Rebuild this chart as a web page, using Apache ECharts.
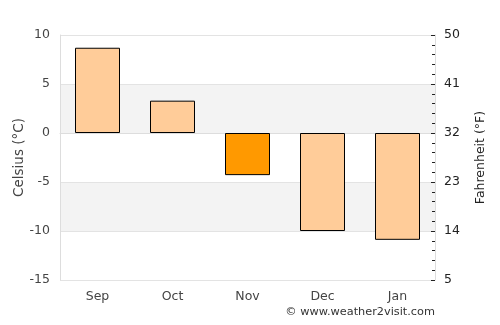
<!DOCTYPE html>
<html>
<head>
<meta charset="utf-8">
<script src="https://cdn.jsdelivr.net/npm/echarts@6/dist/echarts.min.js"></script>
<style>
html, body { margin: 0; padding: 0; background: #fff; }
#chart { width: 500px; height: 325px; }
</style>
</head>
<body>
<div id="chart"></div>
<script>
var months = ['Sep', 'Oct', 'Nov', 'Dec', 'Jan'];
var celsius = [8.7, 3.3, -4.3, -10.0, -10.9];
var highlight = 'Nov'; // current month, darker orange

var chart = echarts.init(document.getElementById('chart'));
var font = 'DejaVu Sans';

var option = {
    backgroundColor: '#fff',
    animation: false,
    grid: { left: 60, right: 65, top: 35, bottom: 45, outerBoundsMode: 'none', containLabel: false },
    xAxis: {
        type: 'category',
        data: months,
        axisLine: { show: true, lineStyle: { color: '#dddddd' } },
        axisTick: { show: false },
        axisLabel: { color: '#444', fontFamily: font, fontSize: 12.5, margin: 10 }
    },
    yAxis: [
        {
            type: 'value',
            min: -15, max: 10, interval: 5,
            name: 'Celsius (°C)',
            nameLocation: 'middle',
            nameGap: 34,
            nameMoveOverlap: false,
            nameTextStyle: { color: '#444', fontFamily: font, fontSize: 13.5 },
            axisLine: { show: true, lineStyle: { color: '#dddddd' } },
            axisTick: { show: false },
            axisLabel: { color: '#444', fontFamily: font, fontSize: 12.5, margin: 10 },
            splitLine: { show: true, lineStyle: { color: '#e3e3e3' } },
            splitArea: { show: true, areaStyle: { color: ['#ffffff', '#f3f3f3'] } }
        },
        {
            type: 'value',
            min: 5, max: 50, interval: 9,
            position: 'right',
            name: 'Fahrenheit (°F)',
            nameLocation: 'middle',
            nameGap: 39,
            nameMoveOverlap: false,
            nameTextStyle: { color: '#222', fontFamily: font, fontSize: 12.5 },
            axisLine: { show: true, lineStyle: { color: '#dddddd' } },
            axisTick: { show: true, inside: true, length: 4, lineStyle: { color: '#222' } },
            minorTick: { show: true, splitNumber: 5, length: 3, lineStyle: { color: '#222' } },
            axisLabel: { color: '#222', fontFamily: font, fontSize: 12.5, margin: 9 },
            splitLine: { show: false }
        }
    ],
    series: [
        {
            type: 'bar',
            barWidth: '60%',
            data: celsius.map(function (v, i) {
                return {
                    value: v,
                    itemStyle: { color: months[i] === highlight ? '#ff9900' : '#ffcc99' }
                };
            }),
            itemStyle: { borderColor: '#000', borderWidth: 1 }
        }
    ],
    graphic: [
        {
            type: 'text',
            right: 65,
            top: 307,
            style: {
                text: '© www.weather2visit.com',
                fill: '#333',
                font: '11.3px DejaVu Sans'
            }
        }
    ]
};
chart.setOption(option);
</script>
</body>
</html>
